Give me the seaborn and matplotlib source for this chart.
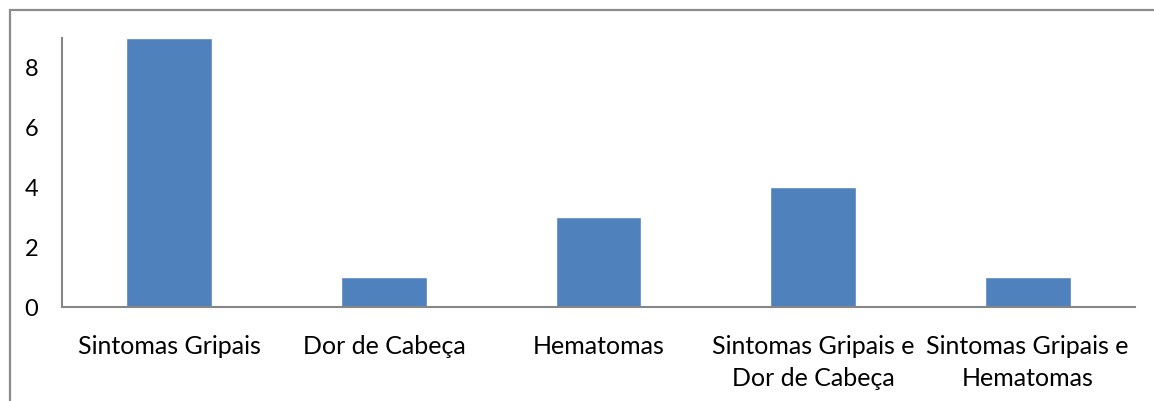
import matplotlib
matplotlib.use("Agg")
import matplotlib.pyplot as plt
from matplotlib.patches import Rectangle
import seaborn as sns
import pandas as pd

categorias = ["Sintomas Gripais", "Dor de Cabeça", "Hematomas",
              "Sintomas Gripais e\nDor de Cabeça", "Sintomas Gripais e\nHematomas"]
valores = [9, 1, 3, 4, 1]
ticks_y = [0, 2, 4, 6, 8]

sns.set_theme(style="white")
plt.rcParams["font.family"] = ["Lato", "DejaVu Sans"]

W, H = 1154, 401
fig = plt.figure(figsize=(W / 100, H / 100), dpi=100)
ax = fig.add_axes([62 / W, 1 - 307 / H, (1135 - 62) / W, (307 - 38) / H])

df = pd.DataFrame({"categoria": categorias, "valor": valores})
sns.barplot(data=df, x="categoria", y="valor", color="#4F81BD",
            saturation=1, width=0.4, ax=ax)

ax.set_ylim(0, 9)
ax.set_xlim(-0.5, len(categorias) - 0.5)
ax.set_yticks(ticks_y)
ax.set_yticklabels([str(t) for t in ticks_y], fontsize=17, color="#000000")
ax.tick_params(axis="x", labelsize=18, colors="#000000", length=0, pad=20)
ax.tick_params(axis="y", length=0, pad=17)
for lbl in ax.get_xticklabels():
    lbl.set_linespacing(1.5)
ax.set_xlabel("")
ax.set_ylabel("")

for side in ["top", "right"]:
    ax.spines[side].set_visible(False)
for side in ["left", "bottom"]:
    ax.spines[side].set_color("#868686")
    ax.spines[side].set_linewidth(1.5)

# outer chart frame
fig.patches.append(Rectangle((9.5 / W, -0.2), 1.5, 1 - 9.5 / H + 0.2,
                             transform=fig.transFigure, fill=False,
                             edgecolor="#8C8C8C", linewidth=1.6))

fig.savefig("out.png", dpi=100)
